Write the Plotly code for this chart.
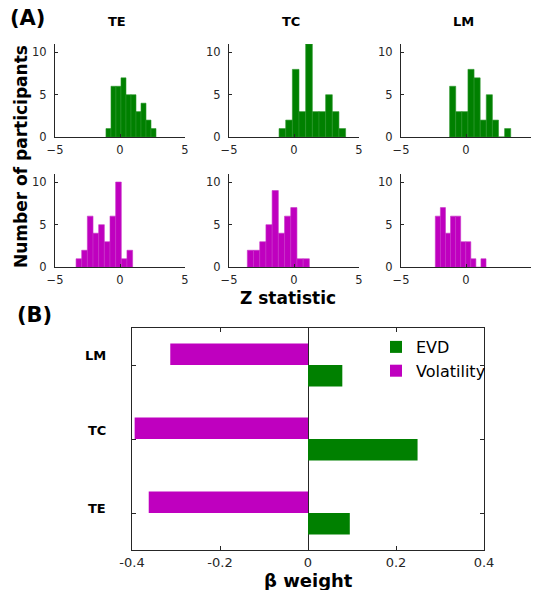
import numpy as np
import plotly.graph_objects as go

# ---------------- data ----------------
conditions = ["TE", "TC", "LM"]

# Histogram counts (10 bins each) and bin range (lo, hi) of the Z statistics
evd_counts = {
    "TE": [1, 6, 6, 7, 5, 5, 3, 4, 2, 1],
    "TC": [1, 2, 8, 3, 11, 3, 3, 5, 3, 1],
    "LM": [6, 3, 3, 8, 7, 2, 5, 2, 0, 1],
}
evd_ranges = {"TE": (-1.08, 2.77), "TC": (-1.15, 3.97), "LM": (-1.26, 3.44)}

vol_counts = {
    "TE": [1, 2, 6, 4, 5, 3, 6, 10, 1, 2],
    "TC": [2, 2, 3, 5, 9, 4, 6, 7, 1, 1],
    "LM": [6, 7, 4, 6, 6, 3, 3, 1, 0, 1],
}
vol_ranges = {"TE": (-3.38, 0.97), "TC": (-3.59, 1.18), "LM": (-2.36, 1.54)}

# Beta weights (panel B), order TE, TC, LM
beta_evd = [0.095, 0.249, 0.078]
beta_vol = [-0.362, -0.394, -0.313]

hist_xticks = [-5, 0, 5]
hist_yticks = [0, 5, 10]
beta_xticks = [-0.4, -0.2, 0, 0.2, 0.4]

GREEN = "#008000"
MAGENTA = "#BF00BF"
GREEN_EDGE = "#2a962a"
MAGENTA_EDGE = "#c832c8"
AXC = "#262626"

W, H = 533, 590


def px_x(p):
    return p / W


def px_y(p):
    return 1 - p / H


fig = go.Figure()

col_x = [(55, 185), (229, 359), (401, 531)]
row_y = [(44, 137), (173.5, 267.3)]

tickfont = dict(family="DejaVu Sans", size=11.5, color=AXC)

ax = 1
for r, (counts, ranges, color, edge) in enumerate(
    [(evd_counts, evd_ranges, GREEN, GREEN_EDGE), (vol_counts, vol_ranges, MAGENTA, MAGENTA_EDGE)]
):
    for c, cond in enumerate(conditions):
        cnt = counts[cond]
        lo, hi = ranges[cond]
        edges = np.linspace(lo, hi, len(cnt) + 1)
        centers = (edges[:-1] + edges[1:]) / 2
        bw = edges[1] - edges[0]
        fig.add_trace(
            go.Bar(
                x=centers,
                y=cnt,
                width=bw,
                marker=dict(color=color, line=dict(width=0.6, color=edge)),
                xaxis=f"x{ax}",
                yaxis=f"y{ax}",
                showlegend=False,
                hoverinfo="x+y",
            )
        )
        xd = [px_x(col_x[c][0]), px_x(col_x[c][1])]
        yd = [px_y(row_y[r][1]), px_y(row_y[r][0])]
        fig.layout[f"xaxis{ax}"] = dict(
            domain=xd, range=[-5, 5], anchor=f"y{ax}",
            tickvals=hist_xticks, ticks="inside", ticklen=3, tickcolor=AXC,
            showline=True, linecolor=AXC, linewidth=1.2, showgrid=False,
            zeroline=False, tickfont=tickfont, automargin=False,
            ticklabelstandoff=2,
        )
        fig.layout[f"yaxis{ax}"] = dict(
            domain=yd, range=[0, 11], anchor=f"x{ax}",
            tickvals=hist_yticks, ticks="inside", ticklen=3, tickcolor=AXC,
            showline=True, linecolor=AXC, linewidth=1.2, showgrid=False,
            zeroline=False, tickfont=tickfont, automargin=False,
            ticklabelstandoff=5,
        )
        ax += 1

# ---------------- panel B ----------------
ypos = [1, 2, 3]
bar_w = 0.29
fig.add_trace(
    go.Bar(
        y=ypos, x=beta_evd, orientation="h", width=bar_w, offset=-bar_w,
        marker=dict(color=GREEN, line=dict(width=0)), name="EVD",
        xaxis="x7", yaxis="y7",
    )
)
fig.add_trace(
    go.Bar(
        y=ypos, x=beta_vol, orientation="h", width=bar_w, offset=0,
        marker=dict(color=MAGENTA, line=dict(width=0)), name="Volatility",
        xaxis="x7", yaxis="y7",
    )
)
fig.layout["xaxis7"] = dict(
    domain=[px_x(132), px_x(484)], range=[-0.4, 0.4], anchor="y7",
    tickvals=beta_xticks, ticktext=["-0.4", "-0.2", "0", "0.2", "0.4"],
    ticks="inside", ticklen=4, tickcolor=AXC, mirror="ticks",
    showline=True, linecolor=AXC, linewidth=1.2, showgrid=False,
    zeroline=True, zerolinecolor=AXC, zerolinewidth=1,
    tickfont=dict(family="DejaVu Sans", size=13, color=AXC), automargin=False,
)
fig.layout["yaxis7"] = dict(
    domain=[px_y(550), px_y(328)], range=[0.5, 3.5], anchor="x7",
    tickvals=ypos, showticklabels=False,
    ticks="inside", ticklen=4, tickcolor=AXC, mirror="ticks",
    showline=True, linecolor=AXC, linewidth=1.2, showgrid=False,
    zeroline=False, automargin=False,
)

annotations = []
bold = "DejaVu Sans"
annotations.append(dict(text="<b>(A)</b>", x=px_x(8), y=px_y(18), xref="paper", yref="paper",
                        xanchor="left", yanchor="middle", showarrow=False,
                        font=dict(family=bold, size=21, color="black")))
annotations.append(dict(text="<b>(B)</b>", x=px_x(15), y=px_y(315), xref="paper", yref="paper",
                        xanchor="left", yanchor="middle", showarrow=False,
                        font=dict(family=bold, size=21, color="black")))
for c, cond in enumerate(conditions):
    annotations.append(dict(text=f"<b>{cond}</b>", x=px_x((col_x[c][0] + col_x[c][1]) / 2 - 3),
                            y=px_y(22), xref="paper", yref="paper", xanchor="center",
                            yanchor="middle", showarrow=False,
                            font=dict(family=bold, size=13, color="black")))
annotations.append(dict(text="<b>Number of participants</b>", x=px_x(21), y=px_y(157),
                        xref="paper", yref="paper", xanchor="center", yanchor="middle",
                        textangle=-90, showarrow=False,
                        font=dict(family=bold, size=17, color="black")))
annotations.append(dict(text="<b>Z statistic</b>", x=px_x(288), y=px_y(298),
                        xref="paper", yref="paper", xanchor="center", yanchor="middle",
                        showarrow=False, font=dict(family=bold, size=17, color="black")))
annotations.append(dict(text="<b>β weight</b>", x=px_x(308), y=px_y(580),
                        xref="paper", yref="paper", xanchor="center", yanchor="middle",
                        showarrow=False, font=dict(family=bold, size=18, color="black")))
label_off = [5, 9, 10]
for i, cond in enumerate(conditions):
    annotations.append(dict(text=f"<b>{cond}</b>", x=px_x(108), y=ypos[i], xref="paper", yref="y7",
                            yshift=label_off[i], xanchor="right", yanchor="middle", showarrow=False,
                            font=dict(family=bold, size=13, color="black")))

fig.update_layout(
    width=W, height=H,
    margin=dict(l=0, r=0, t=0, b=0),
    plot_bgcolor="white", paper_bgcolor="white",
    annotations=annotations,
    barmode="overlay",
    legend=dict(x=px_x(376), y=px_y(330), xanchor="left", yanchor="top",
                font=dict(family="DejaVu Sans", size=16, color="black"),
                bgcolor="rgba(0,0,0,0)", traceorder="normal",
                itemsizing="constant", tracegroupgap=0),
    font=dict(family="DejaVu Sans"),
)

fig.write_html("out.html", config={"displayModeBar": False},
               post_script="document.body.style.margin='0px';document.body.style.overflow='hidden';")
